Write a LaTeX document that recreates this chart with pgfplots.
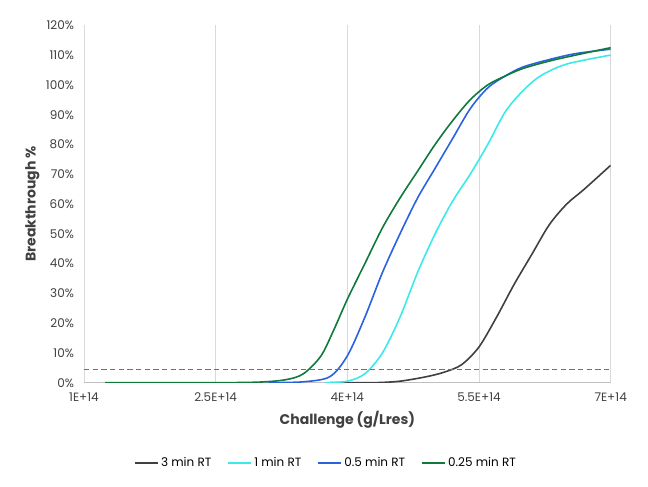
\documentclass[border=0pt]{standalone}
\usepackage{pgfplots}
\pgfplotsset{compat=1.18}
\usepackage{fontspec}
\setmainfont{Poppins}
\definecolor{cdark}{HTML}{404040}
\definecolor{ccyan}{HTML}{3DE8E8}
\definecolor{cblue}{HTML}{2A62E0}
\definecolor{cgreen}{HTML}{0F7A3C}
\definecolor{cpurp}{HTML}{8A4FD8}
\begin{document}
\begin{tikzpicture}
\begin{axis}[
 scale only axis, width=395pt, height=268pt,
 xmin=1, xmax=7, ymin=0, ymax=120,
 xtick={1,2.5,4,5.5,7}, xticklabels={1E+14,2.5E+14,4E+14,5.5E+14,7E+14},
 ytick={0,10,...,120}, yticklabel={\pgfmathprintnumber{\tick}\%},
 /pgf/number format/assume math mode=true,
 tick label style={font=\fontsize{9}{11}\selectfont, text=cdark},
 xticklabel style={yshift=-4pt}, yticklabel style={xshift=-4pt},
 xmajorgrids, major grid style={gray!30},
 axis y line*=left, axis x line*=bottom,
 y axis line style={draw=none}, x axis line style={gray!50},
 major tick length=0pt,
 xlabel={\textbf{Challenge (g/Lres)}}, ylabel={\textbf{Breakthrough \%}},
 label style={font=\fontsize{10.5}{12}\selectfont, text=cdark},
 xlabel style={yshift=0pt}, ylabel style={yshift=-2pt},
 legend columns=4,
 legend style={at={(0.46,-0.225)}, anchor=center, draw=none, font=\fontsize{9}{11}\selectfont, /tikz/every even column/.append style={column sep=10pt}},
 legend cell align=left,
 every axis plot/.append style={line width=1.2pt, smooth, tension=0.5},
]
\addplot[cdark] coordinates {(3.8,0)(4.3,0)(4.6,0.5)(4.9,2)(5.1,3.5)(5.3,6)(5.5,12)(5.7,22)(5.9,33)(6.1,43)(6.3,53)(6.5,60)(6.7,65)(7,73)};
\addlegendentry{3 min RT}
\addplot[ccyan] coordinates {(3.75,0)(4.0,0.5)(4.2,3)(4.4,10)(4.6,22)(4.8,37)(5.0,50)(5.2,61)(5.4,70)(5.6,80)(5.8,91)(6.0,98)(6.2,103)(6.5,107)(7,110)};
\addlegendentry{1 min RT}
\addplot[cblue] coordinates {(3.1,0)(3.5,0.3)(3.8,2)(4.0,9)(4.2,22)(4.4,37)(4.6,50)(4.8,62)(5.0,72)(5.2,82)(5.4,92)(5.6,99)(5.8,103)(6.0,106)(6.3,108.5)(6.6,110.5)(7,112)};
\addlegendentry{0.5 min RT}
\addplot[cgreen] coordinates {(1.24,0)(2.5,0)(3.0,0.2)(3.3,1)(3.5,3)(3.7,9)(3.85,18)(4.0,28)(4.2,40)(4.4,52)(4.6,62)(4.8,71)(5.0,80)(5.2,88)(5.4,95)(5.6,100)(5.8,103)(6.0,105.5)(6.3,108)(6.6,110)(7,112.5)};
\addlegendentry{0.25 min RT}
\addplot[draw=cpurp, dash pattern=on 4pt off 2.5pt, line width=1pt, sharp plot, forget plot] coordinates {(1,4.5)(7,4.5)};
\path (rel axis cs:0,1) coordinate (tl);
\end{axis}
\path[use as bounding box] ([xshift=-63pt,yshift=19pt]tl) rectangle ++(486pt,-364.5pt);
\end{tikzpicture}
\end{document}
